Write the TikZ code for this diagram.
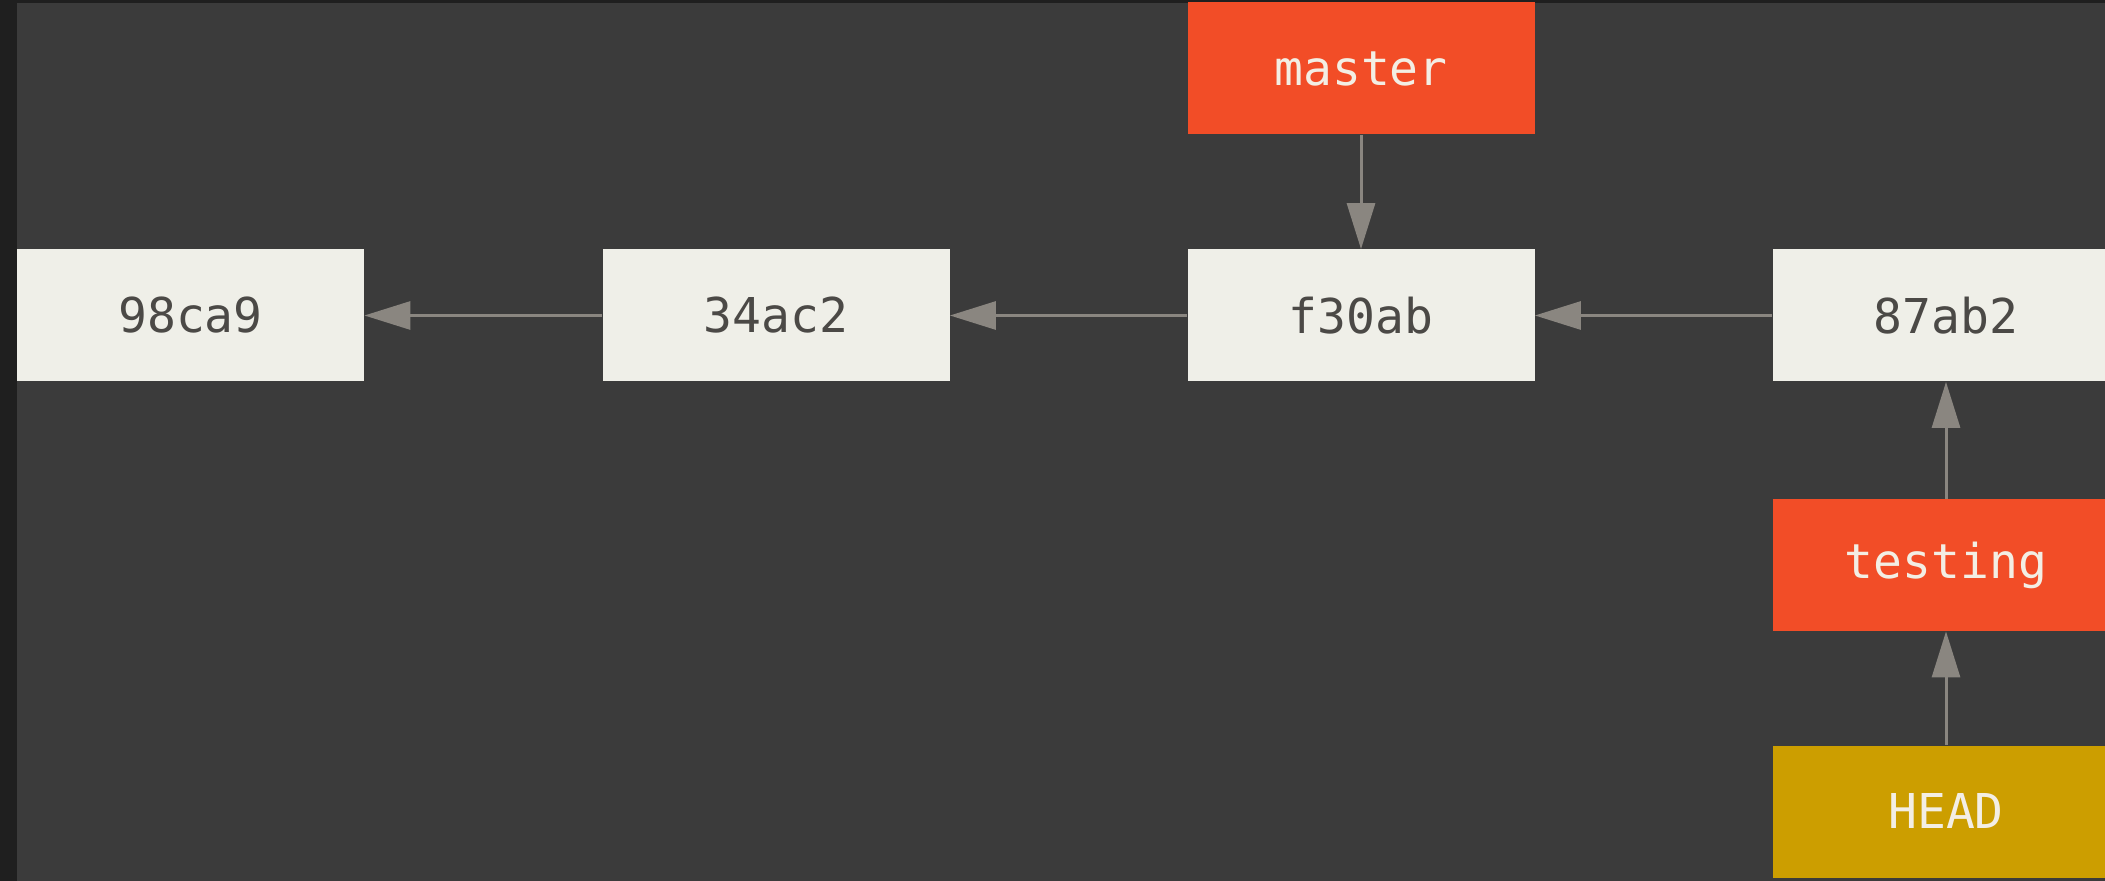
\documentclass[tikz,border=0pt]{standalone}
\usepackage{fontspec}
\setmonofont{DejaVu Sans Mono}
\usetikzlibrary{arrows.meta}
\definecolor{bgc}{HTML}{3B3B3B}
\definecolor{edgec}{HTML}{1F1F1F}
\definecolor{commitc}{HTML}{EFEFE8}
\definecolor{committxt}{HTML}{4B4946}
\definecolor{branchc}{HTML}{F24D27}
\definecolor{headc}{HTML}{CC9E00}
\definecolor{lighttxt}{HTML}{F3EEE4}
\definecolor{arrowc}{HTML}{8A8680}
\tikzset{
  box/.style={rectangle, inner sep=0pt, minimum width=173.5pt, minimum height=66pt,
    font=\fontsize{24}{28}\selectfont\ttfamily},
  commit/.style={box, fill=commitc, text=committxt},
  branch/.style={box, fill=branchc, text=lighttxt},
  headbox/.style={box, fill=headc, text=lighttxt},
  link/.style={draw=arrowc, line width=1.5pt, -{Triangle[length=23pt,width=14pt]}}
}
\begin{document}
\begin{tikzpicture}[x=0.5pt,y=-0.5pt]
\useasboundingbox (0,0) rectangle (2105,881);
\fill[edgec] (0,0) rectangle (2105,881);
\fill[bgc] (17,3) rectangle (2105,881);
\begin{scope}
\clip (17,3) rectangle (2105,881);
\node[commit] (c1) at (190.5,315.5) {98ca9};
\node[commit] (c2) at (776,315.5) {34ac2};
\node[commit] (c3) at (1361,315.5) {f30ab};
\node[commit] (c4) at (1946,315.5) {87ab2};
\node[branch] (master) at (1361,68.5) {master};
\node[branch] (testing) at (1946,565) {testing};
\node[headbox] (head) at (1946,811.5) {HEAD};
\draw[link] (c2.west) -- (c1.east);
\draw[link] (c3.west) -- (c2.east);
\draw[link] (c4.west) -- (c3.east);
\draw[link] (master.south) -- (c3.north);
\draw[link] (testing.north) -- (c4.south);
\draw[link] (head.north) -- (testing.south);
\end{scope}
\end{tikzpicture}
\end{document}
